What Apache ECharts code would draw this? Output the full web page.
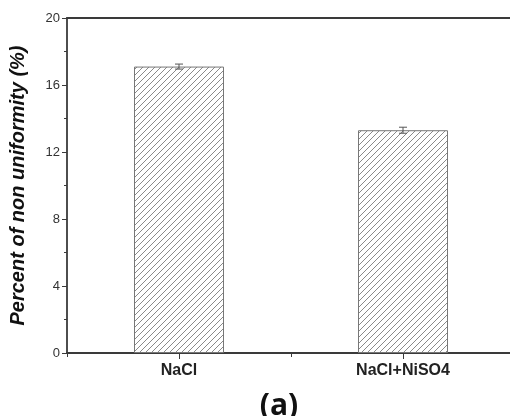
<!DOCTYPE html>
<html>
<head>
<meta charset="utf-8">
<script src="https://cdn.jsdelivr.net/npm/echarts@6/dist/echarts.min.js"></script>
<style>html,body{margin:0;padding:0;background:#fff;overflow:hidden;}#c{width:530px;height:416px;}</style>
</head>
<body>
<div id="c"></div>
<script>
var categories = ['NaCl', 'NaCl+NiSO4'];
var values = [17.1, 13.3];
var errors = [0.15, 0.18];
var yTicks = [0, 4, 8, 12, 16, 20];
var panelLabel = '(a)';
var yTitle = 'Percent of non uniformity (%)';

function makeHatch() {
  var s = 6;
  var cv = document.createElement('canvas');
  cv.width = s; cv.height = s;
  var ctx = cv.getContext('2d');
  ctx.fillStyle = '#fff';
  ctx.fillRect(0, 0, s, s);
  ctx.strokeStyle = '#8a8a8a';
  ctx.lineWidth = 1;
  ctx.beginPath();
  ctx.moveTo(-1, s + 1); ctx.lineTo(s + 1, -1);
  ctx.moveTo(-1, 1); ctx.lineTo(1, -1);
  ctx.moveTo(s - 1, s + 1); ctx.lineTo(s + 1, s - 1);
  ctx.stroke();
  return cv;
}

var chart = echarts.init(document.getElementById('c'), null, {renderer: 'canvas'});
var axisColor = '#3a3a3a';
var option = {
  animation: false,
  backgroundColor: '#fff',
  title: {
    text: panelLabel,
    left: 274, top: 386,
    textAlign: 'center',
    textStyle: {fontFamily: 'Open Sans', fontWeight: 'bold', fontSize: 30, color: '#111'}
  },
  grid: {left: 66, top: 18, width: 449, height: 335},
  xAxis: [{
    type: 'category',
    data: categories,
    position: 'bottom',
    axisLine: {show: true, lineStyle: {color: axisColor, width: 1.8}},
    axisTick: {show: true, alignWithLabel: true, inside: false, length: 6, lineStyle: {color: axisColor, width: 1}},
    axisLabel: {margin: 10, fontFamily: 'Liberation Sans', fontWeight: 'bold', fontSize: 16, color: '#222'}
  }, {
    type: 'category',
    data: categories,
    position: 'bottom',
    gridIndex: 0,
    axisLine: {show: false},
    axisTick: {show: true, alignWithLabel: false, length: 4, lineStyle: {color: axisColor, width: 1}},
    axisLabel: {show: false}
  }, {
    type: 'category',
    data: categories,
    position: 'top',
    axisLine: {show: true, lineStyle: {color: axisColor, width: 1.8}},
    axisTick: {show: false},
    axisLabel: {show: false}
  }],
  yAxis: {
    type: 'value',
    min: 0, max: 20, interval: 4,
    name: yTitle,
    nameLocation: 'middle',
    nameGap: 39,
    nameTextStyle: {fontFamily: 'Liberation Sans', fontWeight: 'bold', fontStyle: 'italic', fontSize: 20, color: '#111'},
    axisLine: {show: true, lineStyle: {color: axisColor, width: 1.8}},
    axisTick: {show: true, inside: false, length: 5, lineStyle: {color: axisColor}},
    minorTick: {show: true, splitNumber: 2, length: 3, lineStyle: {color: axisColor}},
    splitLine: {show: false},
    axisLabel: {
      margin: 7, fontFamily: 'Liberation Sans', fontSize: 13, color: '#333',
      formatter: function (v) { return yTicks.indexOf(v) >= 0 ? String(v) : ''; }
    }
  },
  series: [{
    type: 'bar',
    data: values,
    barWidth: 90,
    itemStyle: {
      color: {image: makeHatch(), repeat: 'repeat'},
      borderColor: '#777',
      borderWidth: 1
    }
  }, {
    type: 'custom',
    data: values.map(function (v, i) { return [i, v, errors[i]]; }),
    renderItem: function (params, api) {
      var x = api.value(0), v = api.value(1), e = api.value(2);
      var top = api.coord([x, v + e]);
      var bot = api.coord([x, v - e]);
      var w = 4;
      var st = {stroke: '#555', lineWidth: 1};
      return {type: 'group', children: [
        {type: 'line', shape: {x1: top[0], y1: top[1], x2: bot[0], y2: bot[1]}, style: st},
        {type: 'line', shape: {x1: top[0] - w, y1: top[1], x2: top[0] + w, y2: top[1]}, style: st},
        {type: 'line', shape: {x1: bot[0] - w, y1: bot[1], x2: bot[0] + w, y2: bot[1]}, style: st}
      ]};
    },
    z: 3
  }]
};
chart.setOption(option);
</script>
</body>
</html>
